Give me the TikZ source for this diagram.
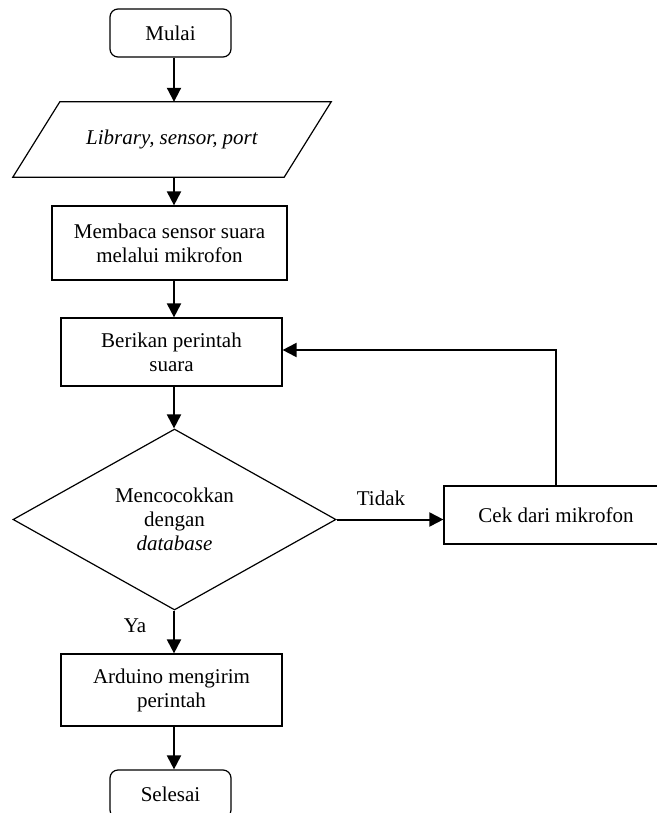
\documentclass[tikz,border=0pt]{standalone}
\usepackage{fontspec}
\setmainfont{Liberation Serif}
\usetikzlibrary{arrows.meta,shapes.geometric}
\begin{document}
\begin{tikzpicture}[x=1pt,y=-1pt,
  txt/.style={font=\fontsize{21}{24}\selectfont},
  base/.style={txt, draw, line width=1.2pt, align=center, inner sep=0pt},
  term/.style={base, rounded corners=8pt, minimum width=121pt, minimum height=48pt},
  proc/.style={base, rectangle},
  arr/.style={line width=2pt, -{Triangle[length=14pt,width=14pt]}},
  fb/.style={line width=2pt},
  lbl/.style={txt, inner sep=0pt}]
\useasboundingbox (0,0) rectangle (656,813);
\coordinate (col) at (174,0);
\node[term] (mulai) at (170.5,33) {Mulai};
\node[txt, align=center, inner sep=0pt, minimum width=271pt, minimum height=75pt, font=\fontsize{21}{24}\selectfont\itshape] (inp) at (172,139.5) {Library, sensor, port};
\draw[line width=1.2pt] ([xshift=23.5pt]inp.north west) -- ([xshift=23.5pt]inp.north east) -- ([xshift=-23.5pt]inp.south east) -- ([xshift=-23.5pt]inp.south west) -- cycle;
\node[proc, minimum width=235pt, minimum height=74pt] (baca) at (169.5,243) {Membaca sensor suara\\melalui mikrofon};
\node[proc, minimum width=221pt, minimum height=68pt] (beri) at (171.5,352) {Berikan perintah\\suara};
\node[base, diamond, aspect=1.8, minimum width=323pt, minimum height=181pt] (dec) at (174.5,519.5) {Mencocokkan\\dengan\\\textit{database}};
\node[proc, minimum width=224pt, minimum height=58pt] (cek) at (556,515) {Cek dari mikrofon};
\node[proc, minimum width=221pt, minimum height=72pt] (ard) at (171.5,690) {Arduino mengirim\\perintah};
\node[term] (sel) at (170.5,794) {Selesai};
\node[lbl] (tidak) at (381,498) {Tidak};
\node[lbl] (ya) at (135,626) {Ya};
\draw[arr] (mulai.south -| col) -- (inp.north -| col);
\draw[arr] (inp.south -| col) -- (baca.north -| col);
\draw[arr] (baca.south -| col) -- (beri.north -| col);
\draw[arr] (beri.south -| col) -- (dec.north -| col);
\draw[arr] (dec.south -| col) -- (ard.north -| col);
\draw[arr] (ard.south -| col) -- (sel.north -| col);
\draw[arr] (dec.east) -- (dec.east -| cek.west);
\draw[arr] (cek.north) |- ([yshift=2pt]beri.east);
\end{tikzpicture}
\end{document}
